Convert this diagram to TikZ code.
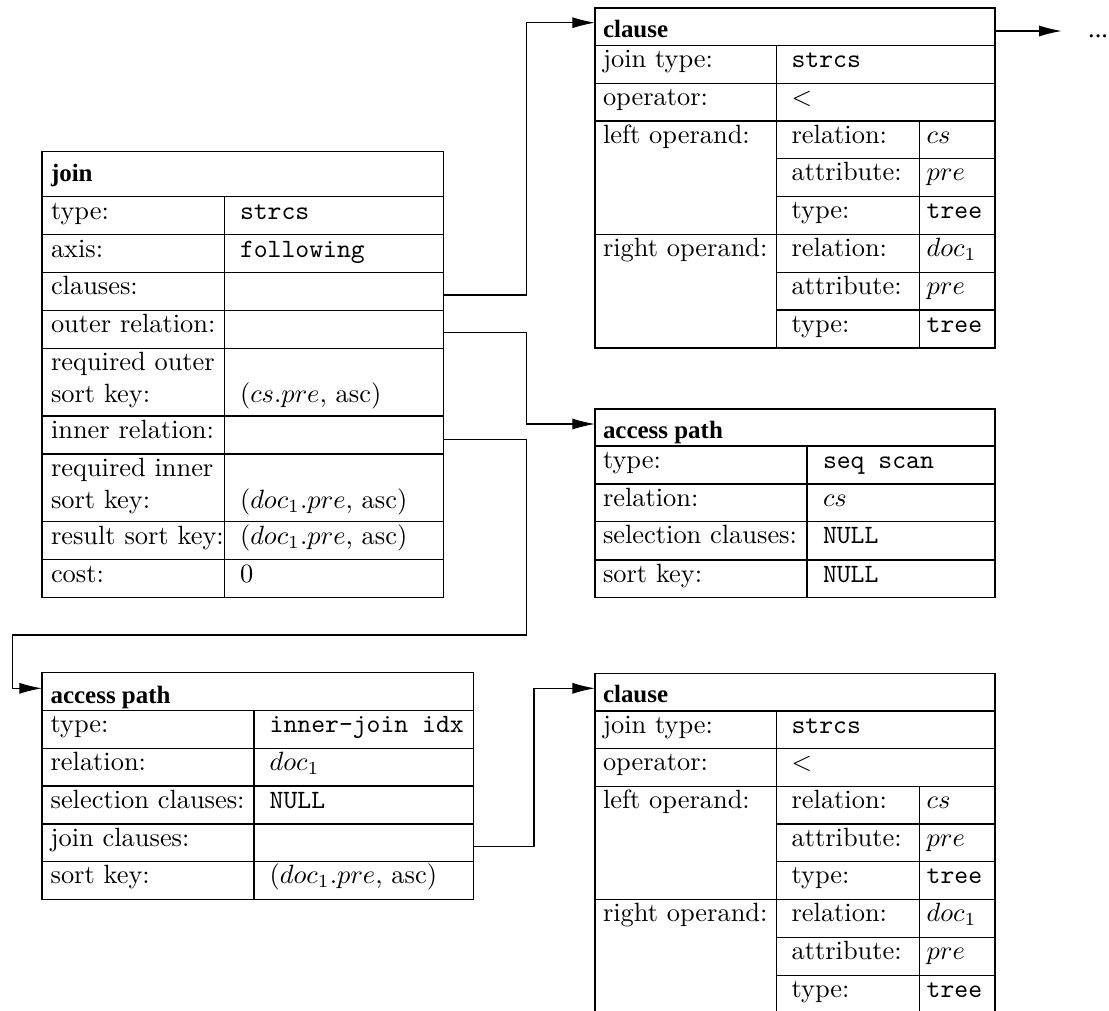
\documentclass[tikz,border=0pt]{standalone}
\usepackage{fontspec}
\newfontfamily\hdrfamily{Liberation Serif}
\usetikzlibrary{arrows.meta,fit}

% one clause record; #1 = name prefix
\newcommand\clausebody[1]{%
  \node[frame, fit={(595,8) (995,348)}] (#1) {};
  \foreach \yy in {45.7,83.3,121,234.3} \draw (595,\yy) -- (995,\yy);
  \foreach \yy in {158.7,196.3,272.3,310} \draw (776.4,\yy) -- (995,\yy);
  \draw (776.4,45.7) -- (776.4,348);
  \draw (919.5,121) -- (919.5,348);
  \node[hdr] (#1-h) at (603,37.5) {clause};
  \node[lbl] (#1-k1) at (603,67.7) {join type:};
  \node[lbl] (#1-v1) at (791.6,67.7) {\texttt{strcs}};
  \node[lbl] (#1-k2) at (603,105.3) {operator:};
  \node[lbl] (#1-v2) at (791.6,105.3) {$<$};
  \node[lbl] (#1-k3) at (603,143) {left operand:};
  \node[lbl] (#1-l1) at (791.6,143) {relation:};
  \node[lbl] (#1-l1v) at (926.7,143) {$cs$};
  \node[lbl] (#1-l2) at (791.6,180.7) {attribute:};
  \node[lbl] (#1-l2v) at (926.7,180.7) {$pre$};
  \node[lbl] (#1-l3) at (791.6,218.3) {type:};
  \node[lbl] (#1-l3v) at (926.7,218.3) {\texttt{tree}};
  \node[lbl] (#1-k4) at (603,256.3) {right operand:};
  \node[lbl] (#1-r1) at (791.6,256.3) {relation:};
  \node[lbl] (#1-r1v) at (926.7,256.3) {$doc_1$};
  \node[lbl] (#1-r2) at (791.6,294.3) {attribute:};
  \node[lbl] (#1-r2v) at (926.7,294.3) {$pre$};
  \node[lbl] (#1-r3) at (791.6,332) {type:};
  \node[lbl] (#1-r3v) at (926.7,332) {\texttt{tree}};
}

\begin{document}
\begin{tikzpicture}[x=0.3788pt,y=-0.3788pt,
  frame/.style={draw, inner sep=0pt, outer sep=0pt},
  lbl/.style={anchor=base west, inner sep=0pt, outer sep=0pt},
  hdr/.style={lbl, font=\hdrfamily\bfseries\fontsize{9.45}{11}\selectfont},
  link/.style={-{Latex[length=8.6pt,width=4.2pt]}},
]
\useasboundingbox (0,0) rectangle (1109,1010);
\clip (0,0) rectangle (1109,1010);

% ---- join record ----
\node[frame, fit={(42,151.7) (443.5,597.3)}] (join) {};
\foreach \yy in {196.7,234.7,272.3,310.3,348.3,416,454,521.7,559.7}
  \draw (42,\yy) -- (443.5,\yy);
\draw (224.5,196.7) -- (224.5,597.3);
\node[hdr] (join-h) at (51,181.7) {join};
\node[lbl] (join-k1) at (51,219.2) {type:};
\node[lbl] (join-v1) at (240,219.2) {\texttt{strcs}};
\node[lbl] (join-k2) at (51,257.2) {axis:};
\node[lbl] (join-v2) at (240,257.2) {\texttt{following}};
\node[lbl] (join-k3) at (51,294.8) {clauses:};
\node[lbl] (join-k4) at (51,332.8) {outer relation:};
\node[lbl] (join-k5a) at (51,370.5) {required outer};
\node[lbl] (join-k5b) at (51,402.2) {sort key:};
\node[lbl] (join-v5) at (240,402.2) {$(cs.pre$, asc$)$};
\node[lbl] (join-k6) at (51,438.5) {inner relation:};
\node[lbl] (join-k7a) at (51,476.5) {required inner};
\node[lbl] (join-k7b) at (51,508.2) {sort key:};
\node[lbl] (join-v7) at (240,508.2) {$(doc_1.pre$, asc$)$};
\node[lbl] (join-k8) at (51,544.2) {result sort key:};
\node[lbl] (join-v8) at (240,544.2) {$(doc_1.pre$, asc$)$};
\node[lbl] (join-k9) at (51,582.2) {cost:};
\node[lbl] (join-v9) at (240,582.2) {0};

% ---- clause records ----
\clausebody{cA}
\begin{scope}[shift={(0,665.3)}]
  \clausebody{cB}
\end{scope}

% ---- sequential-scan access path ----
\node[frame, fit={(595,409) (995,597.7)}] (seq) {};
\foreach \yy in {446,484,521.7,560} \draw (595,\yy) -- (995,\yy);
\draw (807,446) -- (807,597.7);
\node[hdr] (seq-h) at (603,438.3) {access path};
\node[lbl] (seq-k1) at (603,468) {type:};
\node[lbl] (seq-v1) at (823,468) {\texttt{seq scan}};
\node[lbl] (seq-k2) at (603,506) {relation:};
\node[lbl] (seq-v2) at (823,506) {$cs$};
\node[lbl] (seq-k3) at (603,543.7) {selection clauses:};
\node[lbl] (seq-v3) at (823,543.7) {\texttt{NULL}};
\node[lbl] (seq-k4) at (603,582) {sort key:};
\node[lbl] (seq-v4) at (823,582) {\texttt{NULL}};

% ---- index access path ----
\node[frame, fit={(42,672.7) (473.3,899.3)}] (idx) {};
\foreach \yy in {710.7,748.3,786,824,861.7} \draw (42,\yy) -- (473.3,\yy);
\draw (254,710.7) -- (254,899.3);
\node[hdr] (idx-h) at (50.6,703.3) {access path};
\node[lbl] (idx-k1) at (50.6,732.7) {type:};
\node[lbl] (idx-v1) at (269.7,732.7) {\texttt{inner-join idx}};
\node[lbl] (idx-k2) at (50.6,770.3) {relation:};
\node[lbl] (idx-v2) at (269.7,770.3) {$doc_1$};
\node[lbl] (idx-k3) at (50.6,808) {selection clauses:};
\node[lbl] (idx-v3) at (269.7,808) {\texttt{NULL}};
\node[lbl] (idx-k4) at (50.6,846) {join clauses:};
\node[lbl] (idx-k5) at (50.6,883.7) {sort key:};
\node[lbl] (idx-v5) at (269.7,883.7) {$(doc_1.pre$, asc$)$};

% ---- ports ----
\coordinate (join-clauses) at (443.5,295);
\coordinate (join-outer) at (443.5,332.7);
\coordinate (join-inner) at (443.5,439.3);
\coordinate (idx-join) at (473.3,846.7);
\coordinate (cA-in) at (595,22.7);
\coordinate (cA-out) at (995,31);
\coordinate (cA-next) at (1061.7,31);
\coordinate (seq-in) at (595,424);
\coordinate (idx-in) at (42,688.3);
\coordinate (cB-in) at (595,688.3);

% ---- pointers ----
\draw[link] (join-clauses) -- (526.7,295) -- (526.7,22.7) -- (cA-in);
\draw[link] (join-outer) -- (526.7,332.7) -- (526.7,424) -- (seq-in);
\draw[link] (join-inner) -- (526.7,439.3) -- (526.7,635) -- (12.3,635)
  -- (12.3,688.3) -- (idx-in);
\draw[link] (idx-join) -- (534,846.7) -- (534,688.3) -- (cB-in);
\draw[link] (cA-out) -- (cA-next);
\node[lbl, font=\hdrfamily] (more) at (1088.2,37) {...};
\end{tikzpicture}
\end{document}
